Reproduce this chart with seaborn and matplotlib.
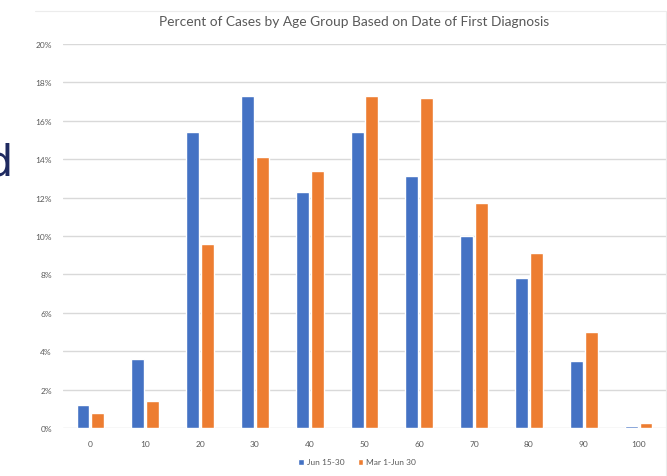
import pandas as pd
import seaborn as sns
import matplotlib.pyplot as plt
from matplotlib.lines import Line2D

# values (percent of cases)
age_groups = ['0', '10', '20', '30', '40', '50', '60', '70', '80', '90', '100']
jun_15_30 = [1.2, 3.6, 15.4, 17.3, 12.3, 15.4, 13.1, 10.0, 7.8, 3.5, 0.12]
mar_1_jun_30 = [0.8, 1.4, 9.6, 14.1, 13.4, 17.3, 17.2, 11.7, 9.1, 5.0, 0.25]
series_names = ['Jun 15-30', 'Mar 1-Jun 30']
y_ticks = [0, 2, 4, 6, 8, 10, 12, 14, 16, 18, 20]

df = pd.DataFrame({
    'age': age_groups * 2,
    'pct': jun_15_30 + mar_1_jun_30,
    'series': [series_names[0]] * len(age_groups) + [series_names[1]] * len(age_groups),
})

sns.set_style("white")
plt.rcParams['font.family'] = ['Lato', 'DejaVu Sans']

grey = '#595959'
fig = plt.figure(figsize=(6.67, 4.77), dpi=100)
ax = fig.add_axes([63 / 667, 1 - 429 / 477, 603 / 667, 384 / 477])

sns.barplot(data=df, x='age', y='pct', hue='series', order=age_groups,
            hue_order=series_names, palette=['#4472C4', '#ED7D31'],
            width=0.54, gap=0.13, saturation=1, ax=ax, zorder=3)

ax.set_xlim(-0.5, len(age_groups) - 0.5)
ax.set_ylim(0, 20)
ax.set_yticks(y_ticks)
ax.set_yticklabels(['%d%%' % t for t in y_ticks])
ax.yaxis.grid(True, color='#D9D9D9', linewidth=1.0, zorder=0)
ax.set_axisbelow(True)
for s in ax.spines.values():
    s.set_visible(False)
ax.tick_params(axis='both', length=0, labelsize=6, labelcolor=grey)
ax.tick_params(axis='y', pad=8)
ax.tick_params(axis='x', pad=9)
ax.set_xlabel('')
ax.set_ylabel('')

ax.get_legend().remove()
handles, labels = ax.get_legend_handles_labels()
fig.legend(handles, labels, loc='center', bbox_to_anchor=(357 / 667, 1 - 463 / 477), ncol=2,
           frameon=False, fontsize=6, labelcolor=grey, handlelength=0.7, handleheight=0.7,
           handletextpad=0.3, columnspacing=1.6, borderaxespad=0)

fig.text(354 / 667, 1 - 22 / 477, 'Percent of Cases by Age Group Based on Date of First Diagnosis',
         ha='center', va='center', fontsize=9.9, color=grey)

# faint outline of the chart box and the cut-off slide text on the left
fig.lines.append(Line2D([35 / 667, 665.5 / 667, 665.5 / 667], [1 - 12 / 477, 1 - 12 / 477, 0],
                        transform=fig.transFigure, color='#ECECEC', linewidth=0.8))
fig.text(-14 / 667, 1 - 176 / 477, 'd', ha='left', va='baseline', fontsize=31,
         color='#1F2A60', family='DejaVu Sans')

fig.savefig('out.png', dpi=100)
